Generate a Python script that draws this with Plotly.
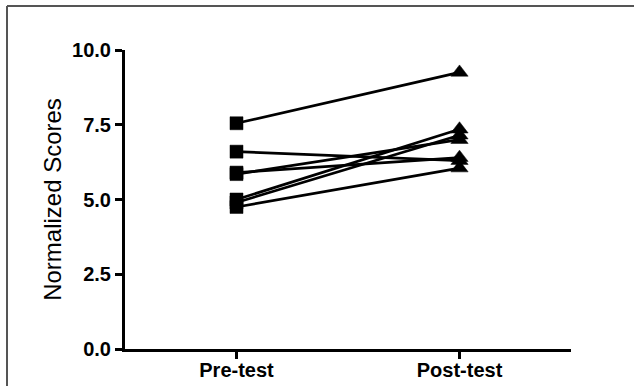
import plotly.graph_objects as go

# Paired scores per subject: pre-test vs post-test
conditions = ["Pre-test", "Post-test"]
pre_scores = [7.55, 6.60, 5.90, 5.85, 5.00, 4.90, 4.75]
post_scores = [9.25, 6.30, 6.40, 7.00, 7.35, 7.15, 6.05]
y_ticks = [0.0, 2.5, 5.0, 7.5, 10.0]
y_tick_text = ["0.0", "2.5", "5.0", "7.5", "10.0"]

W, H = 634, 386
M_L, M_R, M_T, M_B = 125, 63, 50, 37

fig = go.Figure()
for pre, post in zip(pre_scores, post_scores):
    fig.add_trace(go.Scatter(
        x=conditions,
        y=[pre, post],
        mode="lines+markers",
        line=dict(color="#000000", width=2.7),
        marker=dict(symbol=["square", "triangle-up"], size=[13, 15], color="#000000",
                    opacity=1, line=dict(color="#000000", width=0.5)),
        showlegend=False,
        cliponaxis=False,
    ))

axis_font = dict(family="Liberation Sans, Arial, sans-serif", size=20, color="black", weight="bold")

fig.update_layout(
    width=W, height=H,
    margin=dict(l=M_L, r=M_R, t=M_T, b=M_B, autoexpand=False),
    paper_bgcolor="white",
    plot_bgcolor="white",
    xaxis=dict(
        type="category",
        range=[-0.5, 1.5],
        automargin=False,
        showline=True, linecolor="black", linewidth=3,
        ticks="outside", ticklen=7, tickwidth=2.5, tickcolor="black",
        ticklabelstandoff=-6,
        tickfont=axis_font,
        showgrid=False, zeroline=False,
    ),
    yaxis=dict(
        range=[0, 10],
        automargin=False,
        tickvals=y_ticks, ticktext=y_tick_text,
        showline=True, linecolor="black", linewidth=3,
        ticks="outside", ticklen=7, tickwidth=2.5, tickcolor="black",
        tickfont=axis_font,
        showgrid=False, zeroline=False,
        title=dict(text="Normalized Scores",
                   font=dict(family="Liberation Sans, Arial, sans-serif", size=24, color="black"),
                   standoff=4),
    ),
    shapes=[
        # outer frame (top and left edges visible)
        dict(type="line", xref="paper", yref="paper",
             x0=(7 - M_L) / (W - M_L - M_R), x1=(W + 10 - M_L) / (W - M_L - M_R),
             y0=1 + (M_T - 6) / (H - M_T - M_B), y1=1 + (M_T - 6) / (H - M_T - M_B),
             line=dict(color="#555555", width=2)),
        dict(type="line", xref="paper", yref="paper",
             x0=(7 - M_L) / (W - M_L - M_R), x1=(7 - M_L) / (W - M_L - M_R),
             y0=1 + (M_T - 6) / (H - M_T - M_B), y1=-(M_B + 10) / (H - M_T - M_B),
             line=dict(color="#555555", width=2)),
    ],
)

fig.write_html("out.html")
